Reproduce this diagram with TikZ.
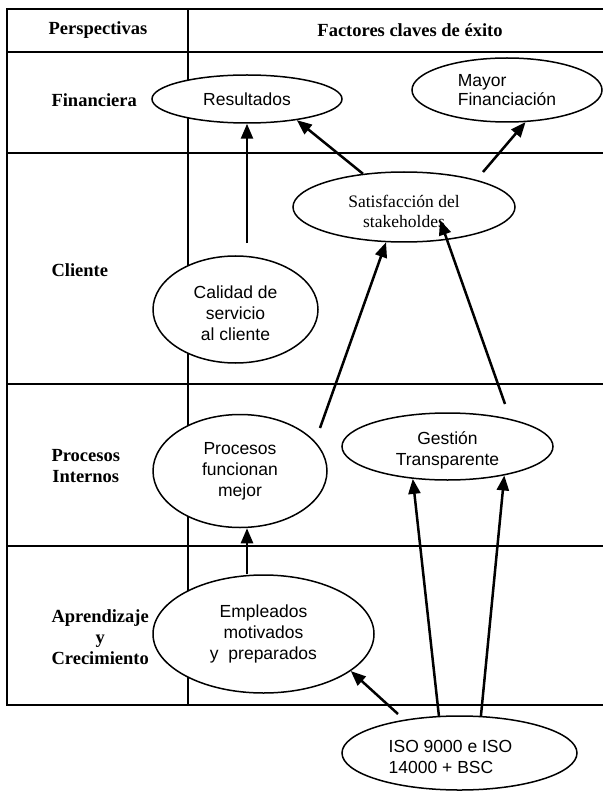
\documentclass[tikz,border=0pt]{standalone}
\usepackage{fontspec}
\setmainfont{Liberation Serif}
\newfontfamily\arialfont{Liberation Sans}
\usetikzlibrary{shapes.geometric,arrows.meta}
% invisible strut that lowers a multi-line label inside its ellipse
\newcommand{\lowerby}[1]{\rule{0pt}{#1}}
\begin{document}
\begin{tikzpicture}[x=1pt,y=-1pt,
  rule/.style={line width=2.4pt},
  thinrule/.style={line width=1.6pt},
  factor/.style={ellipse,draw,line width=1.5pt,fill=white,inner sep=0pt,align=center,
    font=\arialfont\fontsize{17.5}{21}\selectfont},
  persp/.style={anchor=west,align=center,font=\bfseries\fontsize{18.5}{21}\selectfont},
  head/.style={font=\bfseries\fontsize{18.5}{21}\selectfont},
  arr/.style={line width=2.5pt,-{Triangle[length=15pt,width=12pt]}}]
\useasboundingbox (0,0) rectangle (603,791);

% table frame and row rules
\draw[rule] (603,9) -- (7,9) -- (7,705) -- (603,705);
\foreach \y in {52,153,384,546} \draw[rule] (7,\y) -- (603,\y);
\draw[thinrule] (188,9) -- (188,705);

% headings
\node[head] (hpersp) at (98,30) {Perspectivas};
\node[head] (hfact) at (410,30) {Factores claves de éxito};

% perspectives
\node[persp] (pfin) at (48,100) {Financiera};
\node[persp] (pcli) at (48,270) {Cliente};
\node[persp] (ppro) at (48,466) {Procesos\\Internos};
\node[persp] (papr) at (48,637) {Aprendizaje\\y\\Crecimiento};

% key success factors
\node[factor,minimum width=190pt,minimum height=48pt] (res) at (247,99) {Resultados};
\node[factor,minimum width=190pt,minimum height=64pt,align=left,
  font=\arialfont\fontsize{17.5}{19.5}\selectfont] (mayor) at (507,90) {Mayor\\Financiación};
\node[factor,minimum width=222pt,minimum height=70pt,
  font=\fontsize{17.5}{20}\selectfont] (satis) at (404,207) {\lowerby{22pt}Satisfacción del\\stakeholdes};
\node[factor,minimum width=165pt,minimum height=107pt] (calidad) at (235.5,309.5)
  {\lowerby{19.5pt}Calidad de\\servicio\\al cliente};
\node[factor,minimum width=174pt,minimum height=113pt] (procesos) at (240,471) {Procesos\\funcionan\\mejor};
\node[factor,minimum width=211pt,minimum height=67pt] (gestion) at (447.5,446.5)
  {\lowerby{20pt}Gestión\\Transparente};
\node[factor,minimum width=221pt,minimum height=118pt] (empleados) at (263.5,634) {Empleados\\motivados\\y\ \ preparados};
\node[factor,minimum width=235pt,minimum height=74pt] (iso) at (459.5,753) {};
\node[align=left,inner sep=0pt,font=\arialfont\fontsize{17.5}{21}\selectfont] (isotxt) at (450.5,757)
  {ISO 9000 e ISO\\14000 + BSC};

% loose ends of connectors
\coordinate (s3) at (483,172);
\coordinate (p4) at (320,428);
\coordinate (g5) at (505,404);
\coordinate (s5) at (440,220);
\coordinate (e6) at (247,574);
\coordinate (i7) at (398,714);

% cause-effect links
\draw[arr,shorten <=12pt] (res.south |- calidad.north) -- (res.south);
\draw[arr] (satis.141) -- (res.337);
\draw[arr] (s3) -- (mayor.300);
\draw[arr] (p4) -- (satis.243);
\draw[arr] (g5) -- (s5);
\draw[arr] (e6) -- (e6 |- procesos.south);
\draw[arr] (i7) -- (empleados.337);
\draw[arr] (iso.119) -- (gestion.223);
\draw[arr] (iso.60) -- (gestion.333);
\end{tikzpicture}
\end{document}
